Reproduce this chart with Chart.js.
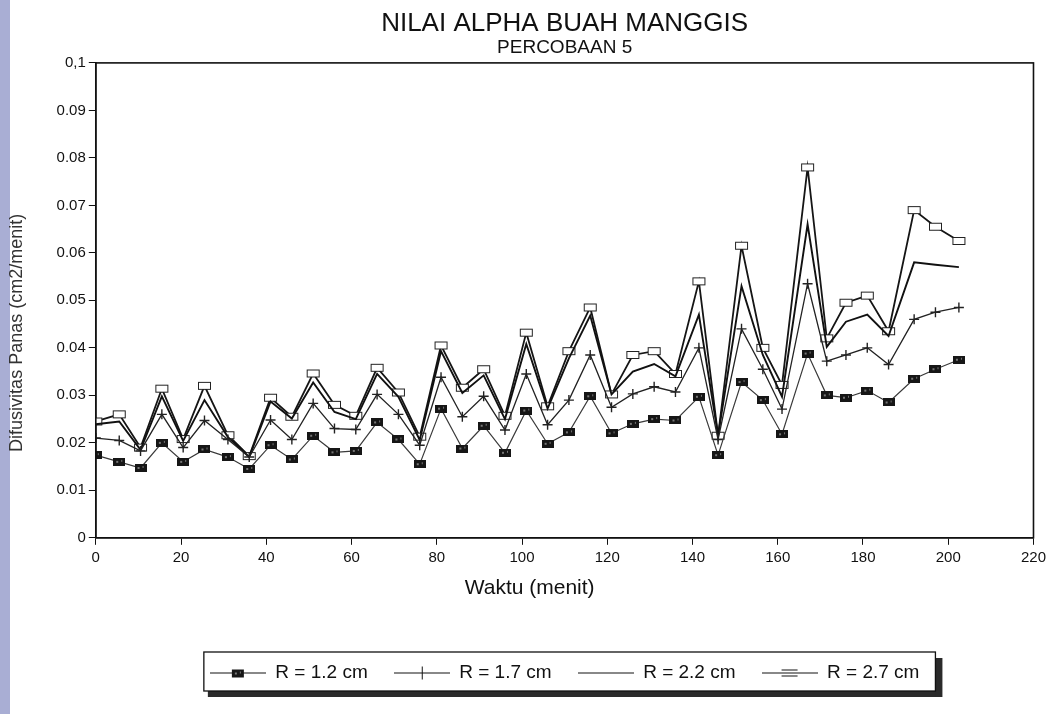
<!DOCTYPE html>
<html>
<head>
<meta charset="utf-8">
<script src="https://cdn.jsdelivr.net/npm/chart.js@4.4.0/dist/chart.umd.min.js"></script>
<style>
  html, body { margin: 0; padding: 0; }
  body {
    width: 1050px;
    height: 714px;
    background: linear-gradient(to right, #a9aed4 0, #a9aed4 10px, #ffffff 10px);
  }
</style>
</head>
<body>
<canvas id="myGraph" width="1050" height="714"></canvas>
<script>
// Waktu (menit) tiap pengukuran
const times = [0, 5.5, 10.5, 15.5, 20.5, 25.5, 31, 36, 41, 46, 51, 56, 61, 66, 71, 76, 81, 86, 91, 96,
  101, 106, 111, 116, 121, 126, 131, 136, 141.5, 146, 151.5, 156.5, 161, 167, 171.5, 176, 181, 186, 192, 197, 202.5];

// Difusivitas panas per jari-jari
const r12 = [0.0174, 0.016, 0.0147, 0.020, 0.016, 0.0186, 0.017, 0.0145, 0.0195, 0.0165, 0.0215, 0.018,
  0.0183, 0.0243, 0.0207, 0.0155, 0.0272, 0.0188, 0.0236, 0.0179, 0.0268, 0.0198, 0.0222, 0.0298,
  0.022, 0.024, 0.025, 0.0247, 0.0297, 0.0174, 0.0328, 0.0290, 0.0218, 0.0388, 0.0300,
  0.0295, 0.031, 0.0285, 0.0335, 0.0355, 0.0375];
const r17 = [0.021, 0.0205, 0.0183, 0.026, 0.019, 0.0247, 0.0207, 0.017, 0.0248, 0.0207, 0.0283, 0.023,
  0.0228, 0.0302, 0.026, 0.0195, 0.0338, 0.0255, 0.0298, 0.0227, 0.0345, 0.0238, 0.029, 0.0385,
  0.0275, 0.0303, 0.0318, 0.0307, 0.0400, 0.0207, 0.0440, 0.0355, 0.0271, 0.0535, 0.0372,
  0.0385, 0.040, 0.0365, 0.046, 0.0475, 0.0485];
const r22 = [0.0239, 0.0245, 0.0185, 0.0298, 0.0204, 0.029, 0.0212, 0.017, 0.0287, 0.0251, 0.0327, 0.0265,
  0.025, 0.0345, 0.0297, 0.0206, 0.0393, 0.0305, 0.0342, 0.025, 0.0408, 0.0272, 0.0378, 0.0468,
  0.0302, 0.035, 0.0366, 0.034, 0.047, 0.0215, 0.053, 0.0385, 0.0297, 0.066, 0.0402,
  0.0455, 0.047, 0.0425, 0.058, 0.0575, 0.057];
const r27 = [0.0245, 0.026, 0.019, 0.0314, 0.0208, 0.032, 0.0216, 0.0172, 0.0295, 0.0255, 0.0346, 0.028,
  0.0257, 0.0358, 0.0306, 0.0213, 0.0405, 0.0316, 0.0355, 0.0257, 0.0432, 0.0277, 0.0393, 0.0485,
  0.0302, 0.0385, 0.0393, 0.0345, 0.054, 0.0215, 0.0615, 0.0400, 0.0322, 0.078, 0.0420,
  0.0495, 0.051, 0.0435, 0.069, 0.0655, 0.0625];

const seriesLabels = ["R = 1.2 cm", "R = 1.7 cm", "R = 2.2 cm", "R = 2.7 cm"];
const xTickLabels = ["0", "20", "40", "60", "80", "100", "120", "140", "160", "180", "200", "220"];
const yTickLabels = ["0", "0.01", "0.02", "0.03", "0.04", "0.05", "0.06", "0.07", "0.08", "0.09", "0,1"];

const FONT = "'Liberation Sans', Arial, sans-serif";

// petite fabrique de marqueurs (canvas)
function makeMarker(w, h, draw) {
  const c = document.createElement("canvas");
  c.width = w;
  c.height = h;
  draw(c.getContext("2d"), w, h);
  return c;
}

const squareMark = makeMarker(12, 8, (g, w, h) => {
  g.fillStyle = "#161616";
  g.fillRect(0, 0, w, h);
  g.fillStyle = "#777";
  g.fillRect(3, 3, 2, 2);
  g.fillRect(8, 2, 1, 2);
});
const boxMark = makeMarker(15, 10, (g, w, h) => {
  g.fillStyle = "#fff";
  g.fillRect(1, 1, w - 2, h - 2);
  g.strokeStyle = "#222";
  g.lineWidth = 1;
  g.strokeRect(1.5, 1.5, w - 3, h - 3);
});

// échantillons de légende : trait + marqueur
function legendSample(marker) {
  return makeMarker(56, 16, (g, w, h) => {
    g.strokeStyle = "#111";
    g.lineWidth = 1;
    g.beginPath();
    g.moveTo(0, 8.5);
    g.lineTo(w, 8.5);
    g.stroke();
    if (marker === "square") {
      g.drawImage(squareMark, w / 2 - 6, 5);
    } else if (marker === "cross") {
      g.beginPath();
      g.moveTo(w / 2 + 0.5, 2);
      g.lineTo(w / 2 + 0.5, 15);
      g.stroke();
    } else if (marker === "box") {
      g.beginPath();
      g.moveTo(w / 2 - 8, 5.5);
      g.lineTo(w / 2 + 8, 5.5);
      g.moveTo(w / 2 - 8, 11.5);
      g.lineTo(w / 2 + 8, 11.5);
      g.stroke();
    }
  });
}
const legendImages = [
  legendSample("square"),
  legendSample("cross"),
  legendSample(null),
  legendSample("box"),
];

const toPoints = (vals) => times.map((t, i) => ({ x: t, y: vals[i] }));

// cadre du graphique + cadre ombré de la légende
const framePlugin = {
  id: "frame",
  afterDatasetsDraw(chart) {
    const { ctx, chartArea: a } = chart;
    ctx.save();
    ctx.strokeStyle = "#111";
    ctx.lineWidth = 1.6;
    ctx.strokeRect(a.left, a.top, a.right - a.left, a.bottom - a.top);
    ctx.restore();
  },
  afterDraw(chart) {
    const boxes = chart.legend.legendHitBoxes;
    if (!boxes || !boxes.length) return;
    const ctx = chart.ctx;
    const first = boxes[0];
    const last = boxes[boxes.length - 1];
    const x0 = first.left - 6;
    const x1 = last.left + last.width + 16;
    const y0 = first.top - 11;
    const y1 = first.top + first.height + 9;
    ctx.save();
    ctx.fillStyle = "#2a2a2a";
    ctx.fillRect(x0 + 4, y1, x1 - x0 + 2, 6);
    ctx.fillRect(x1, y0 + 6, 7, y1 - y0);
    ctx.strokeStyle = "#111";
    ctx.lineWidth = 1.3;
    ctx.strokeRect(x0, y0, x1 - x0, y1 - y0);
    ctx.restore();
  },
};

const ctx = document.getElementById("myGraph").getContext("2d");
const myChart = new Chart(ctx, {
  type: "line",
  data: {
    datasets: [
      {
        label: seriesLabels[0],
        data: toPoints(r12),
        borderColor: "#3a3a3a",
        borderWidth: 1.2,
        pointStyle: squareMark,
        pointRadius: 5,
      },
      {
        label: seriesLabels[1],
        data: toPoints(r17),
        borderColor: "#222",
        borderWidth: 1.3,
        pointStyle: "cross",
        pointRadius: 5,
        pointBorderWidth: 1.4,
        pointBorderColor: "#222",
      },
      {
        label: seriesLabels[2],
        data: toPoints(r22),
        borderColor: "#111",
        borderWidth: 1.9,
        pointRadius: 0,
      },
      {
        label: seriesLabels[3],
        data: toPoints(r27),
        borderColor: "#151515",
        borderWidth: 1.8,
        pointStyle: boxMark,
        pointRadius: 5,
      },
    ],
  },
  options: {
    responsive: false,
    animation: false,
    layout: { padding: { left: 2, right: 2, top: 0, bottom: 22 } },
    scales: {
      x: {
        type: "linear",
        min: 0,
        max: 220,
        ticks: {
          stepSize: 20,
          color: "#111",
          padding: 4,
          font: { family: FONT, size: 15 },
          callback: (v, i) => xTickLabels[i],
        },
        grid: { display: true, drawOnChartArea: false, tickLength: 7, color: "#111" },
        border: { display: true, color: "#111", width: 1.6 },
        title: {
          display: true,
          // espaces finales : décale le titre un peu à gauche comme sur l'original
          text: "Waktu (menit)            ",
          color: "#111",
          font: { family: FONT, size: 21 },
          padding: { top: 5, bottom: 36 },
        },
      },
      y: {
        min: 0,
        max: 0.1,
        ticks: {
          stepSize: 0.01,
          color: "#111",
          padding: 3,
          font: { family: FONT, size: 15 },
          callback: (v, i) => yTickLabels[i],
        },
        grid: { display: true, drawOnChartArea: false, tickLength: 7, color: "#111" },
        border: { display: true, color: "#111", width: 1.6 },
        title: {
          display: true,
          text: "Difusivitas Panas (cm2/menit)             ",
          color: "#333",
          font: { family: FONT, size: 18 },
          padding: { top: 4, bottom: 26 },
        },
      },
    },
    plugins: {
      title: {
        display: true,
        fullSize: false,
        text: "NILAI ALPHA BUAH MANGGIS",
        color: "#111",
        font: { family: FONT, size: 26, weight: "normal", lineHeight: 1.0 },
        padding: { top: 11, bottom: 0 },
      },
      subtitle: {
        display: true,
        fullSize: false,
        text: "PERCOBAAN 5",
        color: "#111",
        font: { family: FONT, size: 19, weight: "normal", lineHeight: 1.1 },
        padding: { top: 0, bottom: 5 },
      },
      legend: {
        display: true,
        position: "bottom",
        fullSize: false,
        labels: {
          usePointStyle: true,
          pointStyleWidth: 56,
          padding: 26,
          color: "#111",
          font: { family: FONT, size: 19 },
          generateLabels: (chart) => {
            const items = Chart.defaults.plugins.legend.labels.generateLabels(chart);
            items.forEach((it, i) => {
              it.pointStyle = legendImages[i];
            });
            return items;
          },
        },
      },
      tooltip: { enabled: false },
    },
  },
  plugins: [framePlugin],
});
</script>
</body>
</html>
